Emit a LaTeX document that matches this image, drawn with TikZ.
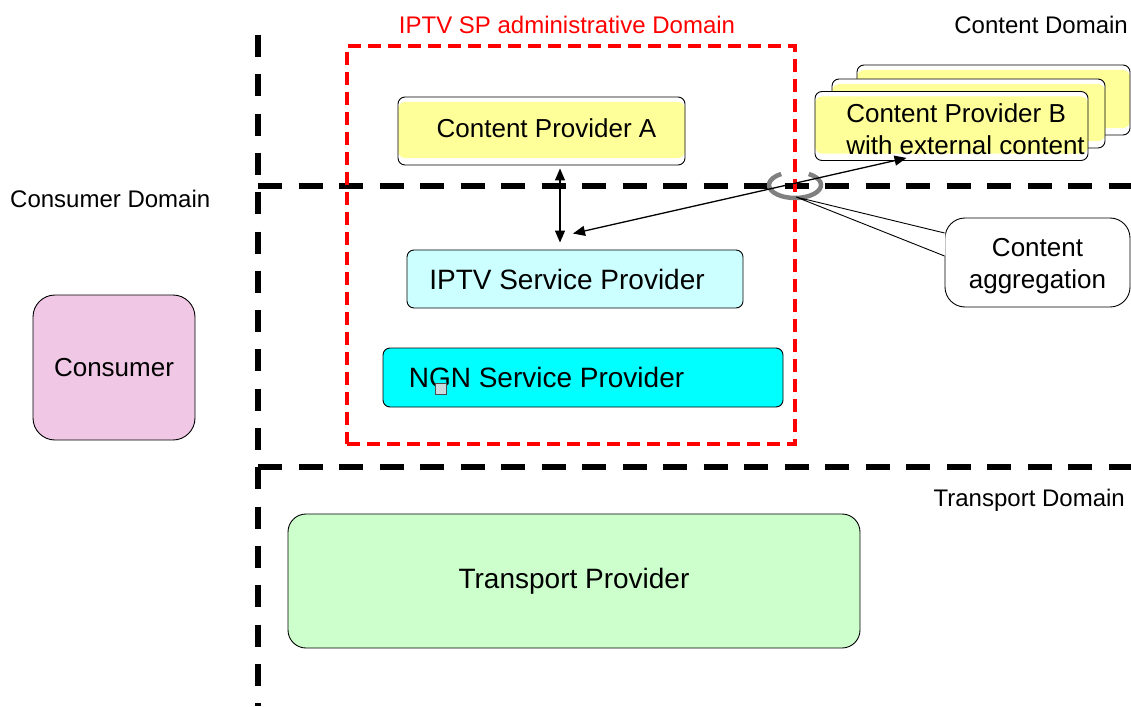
\documentclass[tikz,border=0pt]{standalone}
\usepackage{fontspec}
\setmainfont{Liberation Sans}
\usetikzlibrary{arrows.meta}

\definecolor{cpyellow}{HTML}{FFFF99}
\definecolor{iptvfill}{HTML}{CCFFFF}
\definecolor{ngnfill}{HTML}{00FFFF}
\definecolor{transfill}{HTML}{CCFFCC}
\definecolor{consfill}{RGB}{240,200,230}
\definecolor{handlefill}{RGB}{200,220,224}
\definecolor{ringgray}{RGB}{128,128,128}

\newcommand\domfont{\fontsize{24}{28}\selectfont}
\newcommand\boxfont{\fontsize{26}{32}\selectfont}
\newcommand\bigboxfont{\fontsize{28}{32}\selectfont}

\tikzset{
  domainline/.style={line width=6.5pt, dash pattern=on 22pt off 17.3pt},
  borderline/.style={line width=6.5pt, dash pattern=on 24pt off 16.5pt},
  spdomainbox/.style={draw=red, line width=3.4pt, dash pattern=on 13pt off 7pt},
  domlabel/.style={font=\domfont, inner sep=0pt},
  provbox/.style={draw, line width=0.9pt, rounded corners=7pt, inner sep=0pt},
  yellowbox/.style={provbox, fill=white,
    path picture={\fill[cpyellow]
      ([yshift=-5pt]path picture bounding box.north west) rectangle
      ([yshift=7pt]path picture bounding box.south east);}},
  arr/.style={{Triangle[length=12pt,width=10pt]}-{Triangle[length=12pt,width=10pt]}, line width=1.3pt},
}

\begin{document}
\begin{tikzpicture}[x=1pt,y=-1pt]
\useasboundingbox (0,0) rectangle (1131,706);

% domain borders
\draw[domainline] (258,35) -- (258,706);
\draw[borderline] (258,186) -- (1131,186);
\draw[borderline] (258,467) -- (1131,467);

% domain labels
\node[domlabel, anchor=base] (splabel) at (567,33.5) {\textcolor{red}{IPTV SP administrative Domain}};
\node[domlabel, anchor=base east] (contdom) at (1128,33.5) {Content Domain};
\node[domlabel, anchor=base west] (consdom) at (10,207.5) {Consumer Domain};
\node[domlabel, anchor=base east] (transdom) at (1125,506.5) {Transport Domain};

% IPTV service provider administrative domain
\node[spdomainbox, minimum width=448pt, minimum height=398pt] (spdom) at (571,245) {};

% content providers
\node[yellowbox, minimum width=287pt, minimum height=68pt, font=\boxfont, text depth=6pt] (cpa) at (541.5,131) {\hspace*{10pt}Content Provider A};
\node[yellowbox, minimum width=273pt, minimum height=70pt] (cpb3) at (993.5,100) {};
\node[yellowbox, minimum width=273pt, minimum height=69pt] (cpb2) at (968.5,113.5) {};
\node[yellowbox, minimum width=273pt, minimum height=69pt, font=\boxfont, align=left] (cpb) at (951.5,126)
  {\rule{0pt}{25pt}\hspace*{28pt}Content Provider B\\\hspace*{28pt}with external content};

% service providers
\node[provbox, fill=iptvfill, minimum width=336pt, minimum height=58pt, font=\bigboxfont] (iptv) at (575,279) {IPTV Service Provider\hspace*{16pt}};
\node[provbox, fill=ngnfill, minimum width=400pt, minimum height=59pt, font=\bigboxfont] (ngn) at (583,377.5) {NGN Service Provider\hspace*{73pt}};
\node[draw=black!70, fill=handlefill, line width=0.8pt, minimum size=11pt, inner sep=0pt] (handle) at (441,389) {};

% consumer and transport
\node[provbox, rounded corners=22pt, fill=consfill, minimum width=162pt, minimum height=145pt, font=\boxfont] (cons) at (114,367.5) {Consumer};
\node[provbox, rounded corners=18pt, fill=transfill, minimum width=572pt, minimum height=134pt, font=\bigboxfont] (trans) at (574,581) {Transport Provider};

% aggregation point
\coordinate (ring) at (795,185);
\coordinate (tip) at (796,197);
\draw[ringgray, line width=4.5pt] ([shift={(-58:26 and 13)}]ring) arc[start angle=-58, end angle=238, x radius=26, y radius=13];

% callout
\node[provbox, rounded corners=20pt, fill=white, minimum width=185pt, minimum height=89pt, align=center, font=\boxfont] (agg) at (1037.5,262.5) {\rule{0pt}{25pt}Content\\aggregation};
\fill[white] (tip) -- ([xshift=0.8pt,yshift=29.5pt]agg.west) -- ([xshift=0.8pt,yshift=6.5pt]agg.west) -- cycle;
\draw[line width=0.9pt] ([yshift=29.5pt]agg.west) -- (tip) -- ([yshift=6.5pt]agg.west);

% content flows
\draw[arr] ([xshift=18.5pt,yshift=-3pt]cpa.south) -- ([xshift=-15pt,yshift=7pt]iptv.north);
\draw[arr] ([xshift=-2pt,yshift=16pt]iptv.north) -- ([xshift=-45pt,yshift=3pt]cpb.south);
\end{tikzpicture}
\end{document}
